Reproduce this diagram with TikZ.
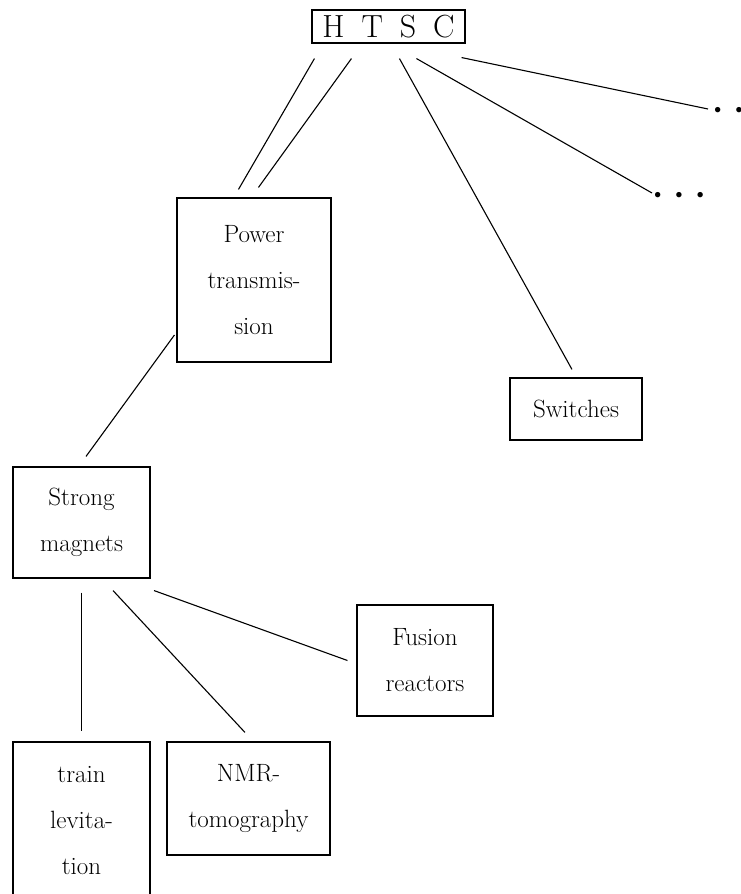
\documentclass[tikz,border=0pt]{standalone}
\begin{document}
\begin{tikzpicture}[x=1pt,y=-1pt,
  box/.style={draw,line width=1.1pt,inner sep=0pt,align=center,font=\fontsize{25}{46}\selectfont},
  dotsnode/.style={inner sep=0pt,font=\fontsize{24}{28}\selectfont},
  link/.style={line width=1.1pt}]
\useasboundingbox (0,0) rectangle (740,894);
\fill[white] (0,0) rectangle (740,894);
% nodes
\node[box,minimum width=153pt,minimum height=33pt,font=\fontsize{32}{36}\selectfont] (htsc) at (388.5,26.5) {H\hspace{17pt}T\hspace{17pt}S\hspace{17pt}C};
\node[box,minimum width=154pt,minimum height=164pt] (power) at (254,280) {Power\\transmis-\\sion};
\node[box,minimum width=132pt,minimum height=62pt] (switches) at (576,409) {Switches};
\node[box,minimum width=137pt,minimum height=111pt] (strong) at (81.5,522.5) {Strong\\magnets};
\node[box,minimum width=136pt,minimum height=111pt] (fusion) at (425,660.5) {Fusion\\reactors};
\node[box,minimum width=137pt,minimum height=158pt] (train) at (81.5,821) {train\\levita-\\tion};
\node[box,minimum width=163pt,minimum height=113pt] (nmr) at (248.5,798.5) {NMR-\\tomography};
\node[dotsnode] (dots1) at (739,112) {\textbullet\hspace{4pt}\textbullet\hspace{4pt}\textbullet};
\node[dotsnode] (dots2) at (679,197) {\textbullet\hspace{4pt}\textbullet\hspace{4pt}\textbullet};
% connectors
\draw[link] ([xshift=3pt,yshift=-15pt]htsc.south west) -- ([xshift=62pt,yshift=8pt]power.north west);
\draw[link] ([xshift=40pt,yshift=-15pt]htsc.south west) -- ([xshift=82pt,yshift=10pt]power.north west);
\draw[link] ([xshift=88pt,yshift=-15pt]htsc.south west) -- ([xshift=-4pt,yshift=8pt]switches.north);
\draw[link] ([xshift=105pt,yshift=-15pt]htsc.south west) -- ([xshift=-27pt,yshift=4pt]dots2.center);
\draw[link] ([xshift=-4pt,yshift=-14pt]htsc.south east) -- ([xshift=-31pt,yshift=3pt]dots1.center);
\draw[link] ([xshift=-2pt,yshift=-55pt]power.west) -- ([xshift=4.5pt,yshift=10pt]strong.north);
\draw[link] ([yshift=-14pt]strong.south) -- ([yshift=10pt]train.north);
\draw[link] ([xshift=31.5pt,yshift=-12pt]strong.south) -- ([xshift=-3.5pt,yshift=9pt]nmr.north);
\draw[link] ([xshift=72.5pt,yshift=-12pt]strong.south) -- ([xshift=-9pt]fusion.west);
\end{tikzpicture}
\end{document}
